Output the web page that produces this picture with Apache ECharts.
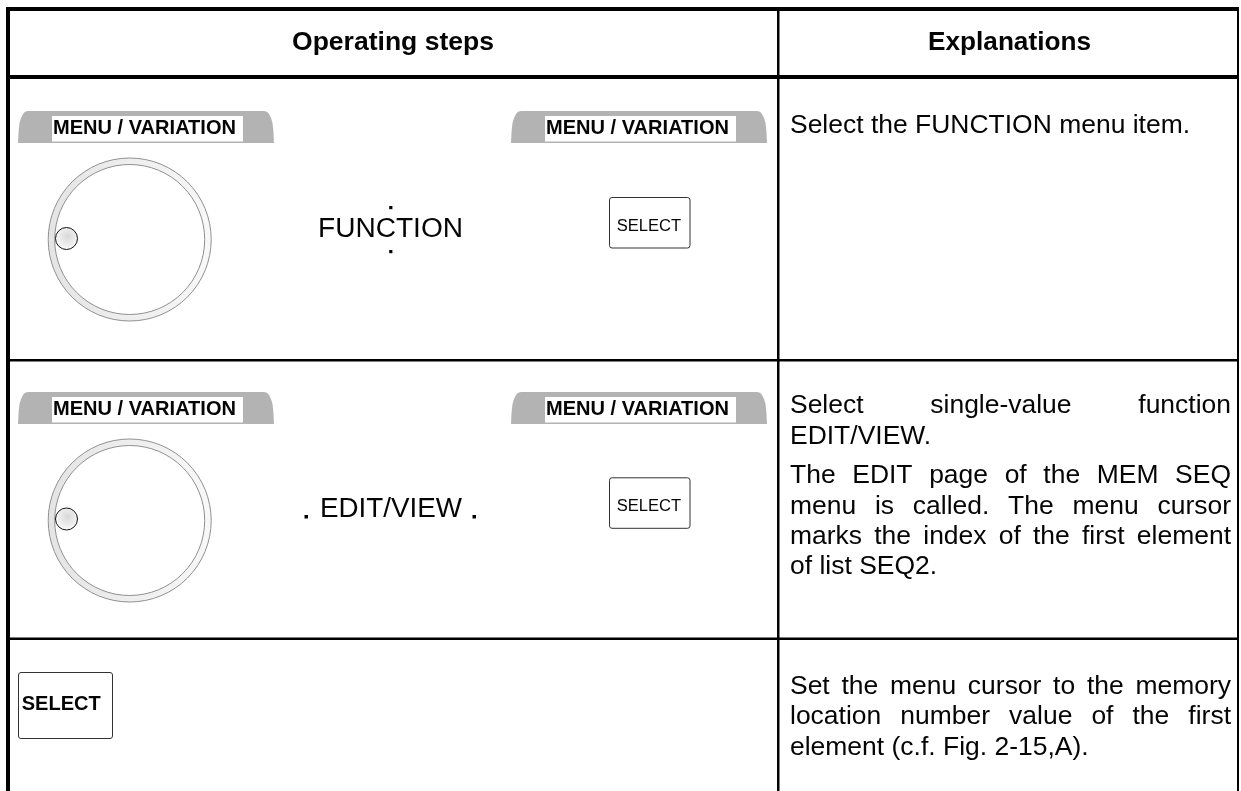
<!DOCTYPE html>
<html>
<head>
<meta charset="utf-8">
<style>html,body{margin:0;padding:0;background:#fff}#c{width:1241px;height:791px}</style>
<script src="https://cdn.jsdelivr.net/npm/echarts@6/dist/echarts.min.js"></script>
</head>
<body>
<div id="c"></div>
<script>
const headerLabels = ['Operating steps', 'Explanations'];
const panelLabel = 'MENU / VARIATION';
const keyLabel = 'SELECT';
const menuItems = ['FUNCTION', 'EDIT/VIEW'];
const row1Lines = ['Select the FUNCTION menu item.'];
const row2Lines = ['Select single-value function', 'EDIT/VIEW.', 'The EDIT page of the MEM SEQ', 'menu is called. The menu cursor', 'marks the index of the first element', 'of list SEQ2.'];
const row3Lines = ['Set the menu cursor to the memory', 'location number value of the first', 'element (c.f. Fig. 2-15,A).'];

const FAMILY = '"Liberation Sans", Arial, sans-serif';
const ctx = document.createElement('canvas').getContext('2d');
const measure = (s, font) => { ctx.font = font; return ctx.measureText(s).width; };
const els = [];
const black = '#000';

function text(s, x, base, size, bold, width) {
  const font = (bold ? 'bold ' : '') + size + 'px ' + FAMILY;
  const w = measure(s, font);
  els.push({
    type: 'text', x: x, y: base - 0.3465 * size, scaleX: width ? width / w : 1, z: 10,
    style: { text: s, font: font, fill: '#050505', align: 'left', verticalAlign: 'middle' }
  });
}
function rect(x, y, w, h, fill, stroke, r) {
  els.push({
    type: 'rect', z: 5, shape: { x, y, width: w, height: h, r: r || 0 },
    style: stroke ? { fill: fill, stroke: stroke, lineWidth: 1 } : { fill: fill }
  });
}
function panel(x, y) {
  const outline = [[0, 32], [0.6, 20], [1.5, 12], [3, 7], [5, 3], [7, 0.8], [10, 0], [246, 0], [249, 0.8], [251, 3], [253, 7], [254.5, 12], [255.4, 20], [256, 32]];
  els.push({
    type: 'polygon', z: 3,
    shape: { points: outline.map(p => [x + p[0], y + p[1]]) },
    style: { fill: '#b3b3b3' }
  });
  rect(x + 34, y + 5, 191, 25.5, '#fff');
  text(panelLabel, x + 35, y + 24.5, 20, true, 183);
}
function knob(cx, cy, kx, ky) {
  els.push({
    type: 'ring', z: 3, shape: { cx, cy, r: 81.5, r0: 75 },
    style: { fill: new echarts.graphic.LinearGradient(0, 0.5, 1, 0.5, [{ offset: 0, color: '#e4e4e4' }, { offset: 1, color: '#f8f8f8' }]), stroke: '#909090', lineWidth: 1 }
  });
  els.push({
    type: 'circle', z: 4, shape: { cx: kx, cy: ky, r: 11 },
    style: { fill: new echarts.graphic.RadialGradient(0.55, 0.4, 0.6, [{ offset: 0, color: '#d8d8d8' }, { offset: 0.7, color: '#f0f0f0' }, { offset: 1, color: '#ffffff' }]), stroke: '#111', lineWidth: 1 }
  });
}
function smallKey(y, base) {
  rect(609.5, y, 80.5, 50.5, '#fff', '#333', 2.5);
  text(keyLabel, 616.7, base, 16, false, 64.5);
}
function justified(line, x, right, base, size, justify) {
  if (!justify) { text(line, x, base, size, false, measure(line, size + 'px ' + FAMILY) * 1.018); return; }
  const words = line.split(' ');
  const font = size + 'px ' + FAMILY;
  const widths = words.map(w => measure(w, font) * 1.018);
  const gap = (right - x - widths.reduce((a, b) => a + b, 0)) / (words.length - 1);
  let cx = x;
  words.forEach((w, i) => { text(w, cx, base, size, false, widths[i]); cx += widths[i] + gap; });
}

// table rules
const H = 791;
rect(6, 7, 1232.5, 4, black);          // top
rect(6, 75, 1232.5, 4, black);         // header
rect(6, 7, 4, H - 7, black);           // left
rect(777, 7, 2.5, H - 7, black);       // column divider
rect(1237, 7, 2, H - 7, black);        // right
rect(6, 359, 1232.5, 2.5, black);      // row 1
rect(6, 637.5, 1232.5, 2.5, black);    // row 2

// header
text(headerLabels[0], 292, 52, 26, true, 202);
text(headerLabels[1], 928, 52, 26, true, 163);

// row 1
panel(18, 111);
knob(129.7, 239.5, 66.5, 238.5);
panel(511, 111);
text(menuItems[0], 318, 239, 27, false, 145);
rect(389.2, 206, 3.2, 3.2, black);
rect(389.2, 250, 3.2, 3.2, black);
smallKey(197.5, 231.7);

// row 2
panel(18, 392);
knob(129.7, 520.5, 66.5, 519);
panel(511, 392);
rect(304.5, 515, 3.5, 3.5, black);
text(menuItems[1], 320, 519, 27, false, 142);
rect(472.5, 515, 3.5, 3.5, black);
smallKey(477.8, 511.7);

// row 3
rect(18.5, 672.5, 94, 66, '#fff', '#333', 2.5);
text(keyLabel, 21.7, 711.7, 20, true, 79);

// explanations
const L = 790, R = 1231;
justified(row1Lines[0], L, R, 135, 26, false);
const base2 = [415, 445.7, 485, 515.7, 546, 576];
row2Lines.forEach((s, i) => justified(s, L, R, base2[i], 26, [0, 2, 3, 4].includes(i)));
const base3 = [696, 726, 756.7];
row3Lines.forEach((s, i) => justified(s, L, R, base3[i], 26, i < 2));

const chart = echarts.init(document.getElementById('c'), null, { renderer: 'canvas', width: 1241, height: 791 });
chart.setOption({ backgroundColor: '#fff', animation: false, graphic: { elements: els } });
</script>
</body>
</html>
